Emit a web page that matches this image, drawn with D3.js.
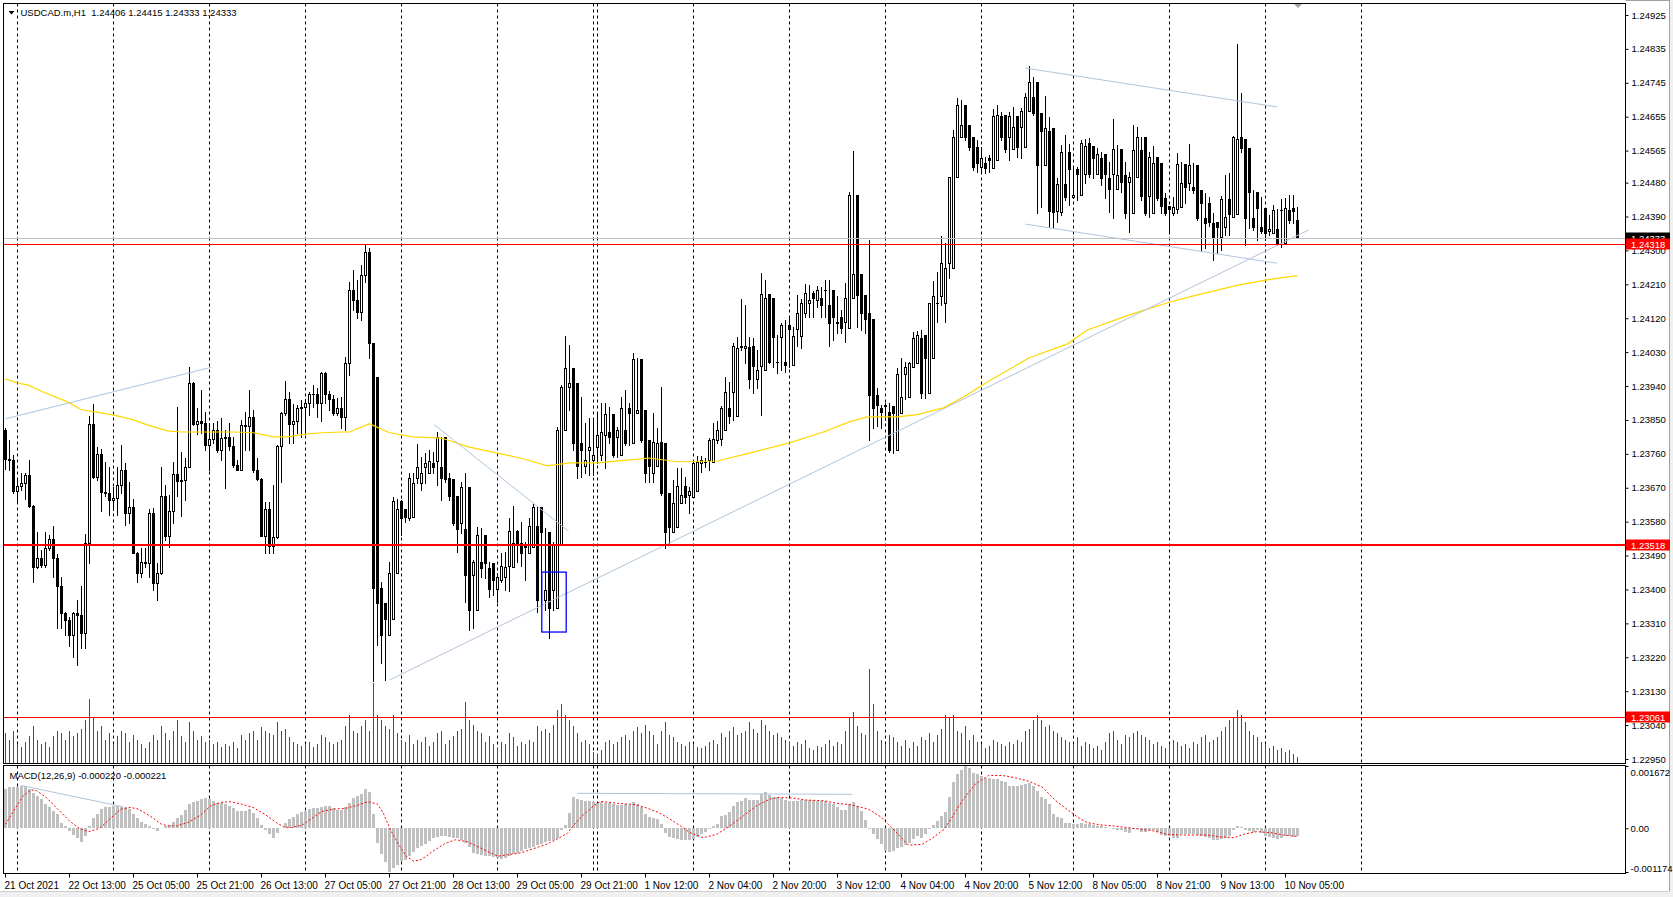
<!DOCTYPE html>
<html><head><meta charset="utf-8">
<script src="https://cdn.jsdelivr.net/npm/d3@7"></script>
<style>html,body{margin:0;padding:0;background:#fff;overflow:hidden}svg{display:block}text{font-family:"Liberation Sans",Arial,sans-serif}</style>
</head><body>
<svg id="c" width="1673" height="897"></svg>
<script>
const titleText = "USDCAD.m,H1  1.24406 1.24415 1.24333 1.24333";
const macdTitle = "MACD(12,26,9) -0.000220 -0.000221";

const opens = [1.23824,
1.23747,1.23744,1.23661,1.23675,1.23683,1.23704,1.23622,1.23460,1.23484,1.23465,
1.23510,1.23534,1.23484,1.23408,1.23337,1.23320,1.23280,1.23337,1.23333,1.23285,
1.23523,1.23839,1.23698,1.23759,1.23658,1.23655,1.23638,1.23642,1.23677,1.23716,
1.23604,1.23620,1.23498,1.23443,1.23474,1.23470,1.23602,1.23417,1.23445,1.23648,
1.23541,1.23609,1.23706,1.23689,1.23691,1.23726,1.23947,1.23839,1.23846,1.23843,
1.23784,1.23800,1.23822,1.23771,1.23802,1.23804,1.23781,1.23731,1.23718,1.23837,
1.23835,1.23857,1.23716,1.23693,1.23542,1.23613,1.23515,1.23538,1.23781,1.23868,
1.23905,1.23840,1.23846,1.23883,1.23885,1.23894,1.23918,1.23920,1.23894,1.23974,
1.23918,1.23905,1.23868,1.23881,1.23858,1.24001,1.24195,1.24169,1.24137,1.24235,
1.24296,1.24054,1.23965,1.23404,1.23364,1.23280,1.23322,1.23443,1.23635,1.23614,
1.23590,1.23593,1.23696,1.23683,1.23726,1.23710,1.23736,1.23741,1.23726,1.23805,
1.23696,1.23694,1.23648,1.23577,1.23561,1.23672,1.23439,1.23346,1.23473,1.23545,
1.23457,1.23470,1.23402,1.23426,1.23434,1.23463,1.23460,1.23555,1.23524,1.23518,
1.23497,1.23513,1.23569,1.23619,1.23373,1.23553,1.23399,1.23351,1.23518,1.23824,
1.23938,1.23988,1.23948,1.23789,1.23728,1.23771,1.23744,1.23779,1.23757,1.23810,
1.23818,1.23866,1.23805,1.23757,1.23824,1.23882,1.23789,1.23869,1.24012,1.23877,
1.23797,1.23710,1.23728,1.23792,1.23789,1.23656,1.23553,1.23566,1.23629,1.23675,
1.23651,1.23646,1.23662,1.23735,1.23739,1.23744,1.23739,1.23797,1.23799,1.23822,
1.23881,1.23925,1.23861,1.24045,1.24040,1.24043,1.24045,1.23958,1.23993,1.23983,
1.24184,1.24173,1.24003,1.24071,1.24003,1.24102,1.23996,1.24091,1.24073,1.24133,
1.24160,1.24187,1.24169,1.24173,1.24195,1.24155,1.24195,1.24107,1.24124,1.24111,
1.24093,1.24173,1.24448,1.24238,1.24182,1.24133,1.24117,1.23917,1.23881,1.23890,
1.23872,1.23887,1.23771,1.23868,1.23972,1.23912,1.23990,1.24000,1.24067,1.24076,
1.23921,1.24014,1.24160,1.24178,1.24161,1.24266,1.24253,1.24494,1.24602,1.24686,
1.24633,1.24601,1.24575,1.24522,1.24532,1.24546,1.24519,1.24540,1.24657,1.24660,
1.24601,1.24570,1.24657,1.24628,1.24575,1.24670,1.24707,1.24747,1.24665,1.24527,
1.24617,1.24625,1.24405,1.24402,1.24477,1.24562,1.24442,1.24516,1.24448,1.24503,
1.24586,1.24578,1.24503,1.24546,1.24556,1.24492,1.24503,1.24463,1.24570,1.24500,
1.24482,1.24400,1.24495,1.24567,1.24601,1.24445,1.24400,1.24548,1.24532,1.24440,
1.24418,1.24400,1.24410,1.24416,1.24530,1.24479,1.24469,1.24527,1.24461,1.24386,
1.24426,1.24373,1.24376,1.24336,1.24362,1.24437,1.24389,1.24397,1.24601,1.24596,
1.24572,1.24386,1.24455,1.24362,1.24413,1.24352,1.24346,1.24357,1.24407,1.24320,
1.24407,1.24413,1.24381];

const highs = [
1.23829,1.23797,1.23757,1.23696,1.23709,1.23710,1.23744,1.23625,1.23553,1.23505,
1.23553,1.23545,1.23569,1.23494,1.23434,1.23341,1.23328,1.23341,1.23371,1.23408,
1.23547,1.23860,1.23893,1.23778,1.23773,1.23738,1.23726,1.23673,1.23725,1.23784,
1.23735,1.23685,1.23640,1.23500,1.23510,1.23510,1.23614,1.23616,1.23470,1.23725,
1.23676,1.23651,1.23738,1.23885,1.23766,1.23748,1.23991,1.23952,1.23881,1.23930,
1.23872,1.23843,1.23841,1.23846,1.23855,1.23824,1.23843,1.23806,1.23744,1.23850,
1.23872,1.23930,1.23877,1.23748,1.23696,1.23633,1.23633,1.23678,1.23784,1.23872,
1.23954,1.23924,1.23892,1.23890,1.23903,1.23905,1.23924,1.23943,1.23934,1.23978,
1.23976,1.23927,1.23916,1.23908,1.23911,1.24017,1.24216,1.24248,1.24222,1.24262,
1.24315,1.24307,1.23965,1.23545,1.23421,1.23346,1.23472,1.23646,1.23640,1.23638,
1.23603,1.23709,1.23709,1.23786,1.23752,1.23763,1.23771,1.23765,1.23818,1.23805,
1.23736,1.23709,1.23656,1.23617,1.23686,1.23709,1.23444,1.23479,1.23566,1.23563,
1.23513,1.23473,1.23447,1.23444,1.23497,1.23500,1.23590,1.23622,1.23558,1.23579,
1.23526,1.23590,1.23627,1.23622,1.23558,1.23563,1.23399,1.23526,1.23832,1.23943,
1.24073,1.24049,1.23965,1.23797,1.23911,1.23842,1.23856,1.23856,1.23872,1.23896,
1.23896,1.23885,1.23824,1.23832,1.23911,1.23930,1.23896,1.24028,1.24015,1.23924,
1.23802,1.23797,1.23869,1.23829,1.23938,1.23656,1.23619,1.23691,1.23722,1.23722,
1.23699,1.23673,1.23739,1.23753,1.23753,1.23748,1.23801,1.23843,1.23846,1.23887,
1.23965,1.23952,1.24054,1.24071,1.24171,1.24155,1.24071,1.24067,1.24036,1.24239,
1.24222,1.24173,1.24076,1.24076,1.24107,1.24116,1.24120,1.24098,1.24182,1.24171,
1.24211,1.24208,1.24191,1.24206,1.24204,1.24222,1.24222,1.24142,1.24178,1.24142,
1.24213,1.24456,1.24565,1.24266,1.24195,1.24182,1.24328,1.24022,1.23934,1.23890,
1.23894,1.23894,1.23877,1.23987,1.24014,1.24005,1.24005,1.24084,1.24087,1.24089,
1.24018,1.24161,1.24218,1.24244,1.24337,1.24319,1.24496,1.24620,1.24705,1.24699,
1.24668,1.24620,1.24593,1.24593,1.24575,1.24548,1.24554,1.24676,1.24686,1.24668,
1.24620,1.24668,1.24681,1.24646,1.24678,1.24718,1.24790,1.24761,1.24665,1.24665,
1.24710,1.24654,1.24479,1.24492,1.24580,1.24607,1.24583,1.24519,1.24522,1.24593,
1.24596,1.24599,1.24575,1.24572,1.24562,1.24508,1.24535,1.24649,1.24580,1.24500,
1.24535,1.24508,1.24633,1.24628,1.24601,1.24522,1.24562,1.24578,1.24546,1.24453,
1.24453,1.24416,1.24442,1.24559,1.24535,1.24506,1.24583,1.24532,1.24466,1.24453,
1.24453,1.24442,1.24400,1.24373,1.24445,1.24500,1.24506,1.24605,1.24848,1.24718,
1.24575,1.24466,1.24460,1.24442,1.24442,1.24402,1.24394,1.24421,1.24410,1.24437,
1.24440,1.24448,1.24448,1.24415];

const lows = [
1.23720,1.23718,1.23656,1.23630,1.23665,1.23640,1.23620,1.23421,1.23457,1.23460,
1.23460,1.23505,1.23434,1.23297,1.23297,1.23280,1.23249,1.23222,1.23200,1.23244,
1.23244,1.23470,1.23695,1.23691,1.23607,1.23647,1.23598,1.23612,1.23598,1.23656,
1.23571,1.23576,1.23496,1.23421,1.23434,1.23460,1.23434,1.23399,1.23373,1.23440,
1.23532,1.23514,1.23576,1.23647,1.23594,1.23638,1.23725,1.23837,1.23813,1.23815,
1.23771,1.23716,1.23788,1.23766,1.23744,1.23669,1.23771,1.23726,1.23716,1.23716,
1.23771,1.23771,1.23713,1.23691,1.23541,1.23496,1.23496,1.23496,1.23536,1.23686,
1.23864,1.23788,1.23788,1.23815,1.23806,1.23813,1.23864,1.23885,1.23859,1.23846,
1.23894,1.23877,1.23864,1.23864,1.23829,1.23824,1.23970,1.24142,1.24121,1.24116,
1.24216,1.24015,1.23157,1.23253,1.23205,1.23160,1.23314,1.23434,1.23603,1.23545,
1.23579,1.23585,1.23603,1.23683,1.23665,1.23683,1.23726,1.23709,1.23677,1.23638,
1.23686,1.23638,1.23570,1.23500,1.23550,1.23367,1.23293,1.23298,1.23460,1.23434,
1.23431,1.23381,1.23386,1.23367,1.23421,1.23399,1.23396,1.23497,1.23473,1.23463,
1.23426,1.23497,1.23545,1.23341,1.23367,1.23346,1.23272,1.23346,1.23452,1.23723,
1.23872,1.23877,1.23771,1.23696,1.23699,1.23710,1.23704,1.23704,1.23736,1.23744,
1.23723,1.23789,1.23752,1.23752,1.23816,1.23784,1.23784,1.23864,1.23872,1.23792,
1.23686,1.23686,1.23686,1.23771,1.23650,1.23510,1.23524,1.23589,1.23594,1.23646,
1.23629,1.23602,1.23646,1.23709,1.23713,1.23726,1.23718,1.23792,1.23788,1.23784,
1.23881,1.23841,1.23850,1.23965,1.24036,1.24000,1.23934,1.23921,1.23934,1.23864,
1.23983,1.24000,1.23991,1.23974,1.23983,1.23978,1.23990,1.24067,1.24045,1.24040,
1.24124,1.24124,1.24124,1.24151,1.24124,1.24124,1.24045,1.24062,1.24080,1.24080,
1.24058,1.24169,1.24235,1.24098,1.24089,1.24080,1.23797,1.23829,1.23833,1.23829,
1.23850,1.23766,1.23762,1.23868,1.23905,1.23905,1.23939,1.23991,1.24062,1.23908,
1.23908,1.24009,1.24142,1.24111,1.24155,1.24109,1.24226,1.24483,1.24593,1.24620,
1.24593,1.24567,1.24514,1.24508,1.24506,1.24506,1.24508,1.24532,1.24652,1.24593,
1.24562,1.24540,1.24620,1.24548,1.24546,1.24660,1.24705,1.24660,1.24400,1.24416,
1.24612,1.24362,1.24360,1.24376,1.24394,1.24434,1.24421,1.24440,1.24434,1.24469,
1.24479,1.24495,1.24492,1.24540,1.24474,1.24440,1.24402,1.24386,1.24474,1.24455,
1.24386,1.24349,1.24487,1.24548,1.24434,1.24395,1.24389,1.24514,1.24434,1.24400,
1.24394,1.24349,1.24394,1.24400,1.24466,1.24426,1.24461,1.24453,1.24381,1.24299,
1.24307,1.24365,1.24275,1.24294,1.24301,1.24341,1.24341,1.24389,1.24546,1.24562,
1.24315,1.24360,1.24354,1.24328,1.24346,1.24328,1.24340,1.24349,1.24315,1.24309,
1.24373,1.24373,1.24373,1.24333];

const closes = [
1.23747,1.23744,1.23661,1.23675,1.23683,1.23704,1.23622,1.23460,1.23484,1.23465,
1.23510,1.23534,1.23484,1.23408,1.23337,1.23320,1.23280,1.23337,1.23333,1.23285,
1.23523,1.23839,1.23698,1.23759,1.23658,1.23655,1.23638,1.23642,1.23677,1.23716,
1.23604,1.23620,1.23498,1.23443,1.23474,1.23470,1.23602,1.23417,1.23445,1.23648,
1.23541,1.23609,1.23706,1.23689,1.23691,1.23726,1.23947,1.23839,1.23846,1.23843,
1.23784,1.23800,1.23822,1.23771,1.23802,1.23804,1.23781,1.23731,1.23718,1.23837,
1.23835,1.23857,1.23716,1.23693,1.23542,1.23613,1.23515,1.23538,1.23781,1.23868,
1.23905,1.23840,1.23846,1.23883,1.23885,1.23894,1.23918,1.23920,1.23894,1.23974,
1.23918,1.23905,1.23868,1.23881,1.23858,1.24001,1.24195,1.24169,1.24137,1.24235,
1.24296,1.24054,1.23404,1.23364,1.23280,1.23322,1.23443,1.23635,1.23614,1.23590,
1.23593,1.23696,1.23683,1.23726,1.23710,1.23736,1.23741,1.23726,1.23805,1.23696,
1.23694,1.23648,1.23577,1.23561,1.23672,1.23439,1.23346,1.23473,1.23545,1.23457,
1.23470,1.23402,1.23426,1.23434,1.23463,1.23460,1.23555,1.23524,1.23518,1.23497,
1.23513,1.23569,1.23619,1.23373,1.23553,1.23399,1.23351,1.23518,1.23824,1.23938,
1.23988,1.23948,1.23789,1.23728,1.23771,1.23744,1.23779,1.23757,1.23810,1.23818,
1.23866,1.23805,1.23757,1.23824,1.23882,1.23789,1.23869,1.24012,1.23877,1.23797,
1.23710,1.23728,1.23792,1.23789,1.23656,1.23553,1.23566,1.23629,1.23675,1.23651,
1.23646,1.23662,1.23735,1.23739,1.23744,1.23739,1.23797,1.23799,1.23822,1.23881,
1.23925,1.23861,1.24045,1.24040,1.24043,1.24045,1.23958,1.23993,1.23983,1.24184,
1.24173,1.24003,1.24071,1.24003,1.24102,1.23996,1.24091,1.24073,1.24133,1.24160,
1.24187,1.24169,1.24173,1.24195,1.24155,1.24195,1.24107,1.24124,1.24111,1.24093,
1.24173,1.24448,1.24238,1.24182,1.24133,1.24117,1.23917,1.23881,1.23890,1.23872,
1.23887,1.23771,1.23868,1.23972,1.23912,1.23990,1.24000,1.24067,1.24076,1.23921,
1.24014,1.24160,1.24178,1.24161,1.24266,1.24253,1.24494,1.24602,1.24686,1.24633,
1.24601,1.24575,1.24522,1.24532,1.24546,1.24519,1.24540,1.24657,1.24660,1.24601,
1.24570,1.24657,1.24628,1.24575,1.24670,1.24707,1.24747,1.24665,1.24527,1.24617,
1.24625,1.24405,1.24402,1.24477,1.24562,1.24442,1.24516,1.24448,1.24503,1.24586,
1.24578,1.24503,1.24546,1.24556,1.24492,1.24503,1.24463,1.24570,1.24500,1.24482,
1.24400,1.24495,1.24567,1.24601,1.24445,1.24400,1.24548,1.24532,1.24440,1.24418,
1.24400,1.24410,1.24416,1.24530,1.24479,1.24469,1.24527,1.24461,1.24386,1.24426,
1.24373,1.24376,1.24336,1.24362,1.24437,1.24389,1.24397,1.24601,1.24596,1.24572,
1.24386,1.24455,1.24362,1.24413,1.24352,1.24346,1.24357,1.24407,1.24320,1.24407,
1.24413,1.24381,1.24406,1.24333];

const volumes = [
280,220,300,180,150,200,250,350,220,180, 200,150,250,300,280,220,300,250,280,320,
400,600,420,300,350,220,280,180,250,300, 280,200,260,220,180,140,200,260,220,350,
280,220,300,400,250,200,380,300,220,250, 200,220,180,200,150,180,160,200,140,260,
220,280,300,220,340,300,280,260,380,300, 320,240,200,180,160,180,200,150,180,260,
240,200,180,200,220,350,450,300,280,350, 400,300,750,450,400,350,320,450,280,220,
200,260,180,220,200,240,160,200,280,300, 180,220,250,300,320,570,400,360,300,280,
200,250,180,140,200,180,280,240,160,200, 180,220,200,350,300,320,280,360,500,550,
450,400,350,280,200,220,180,100,80,120, 200,220,180,200,240,260,220,300,340,280,
360,300,260,180,300,380,260,240,200,180, 160,200,180,150,140,160,200,220,180,280,
240,300,340,260,280,300,380,320,280,400, 360,300,260,280,240,220,200,160,200,180,
220,140,120,160,150,180,220,160,200,180, 300,420,480,350,280,260,880,550,300,220,
180,260,240,200,160,220,140,200,160,240, 220,280,200,260,320,450,420,450,300,280,
350,220,260,200,180,140,160,220,200,180, 160,200,180,220,200,300,320,400,450,400,
340,360,300,280,240,220,200,180,240,160, 200,180,140,160,120,200,280,300,220,180,
260,240,280,300,260,240,220,180,200,160, 140,180,220,200,160,180,140,200,180,240,
260,200,220,240,300,340,400,420,500,450, 380,300,260,240,200,180,140,160,120,140,
100,120,80,60];

const macdHist = [
0.001057,0.001102,0.001102,0.001120,0.001147,0.001147,0.001057,0.000939,0.000876,0.000786,
0.000650,0.000560,0.000470,0.000379,0.000154,0.000063,-0.000072,-0.000181,-0.000253,-0.000361,
-0.000208,0.000063,0.000271,0.000379,0.000515,0.000578,0.000578,0.000605,0.000605,0.000560,
0.000560,0.000506,0.000379,0.000271,0.000181,0.000108,0.000054,-0.000027,-0.000072,0.000018,
0.000054,0.000099,0.000181,0.000271,0.000361,0.000488,0.000650,0.000695,0.000740,0.000786,
0.000813,0.000786,0.000740,0.000686,0.000668,0.000641,0.000596,0.000533,0.000470,0.000452,
0.000470,0.000506,0.000415,0.000289,0.000090,-0.000036,-0.000144,-0.000253,-0.000126,0.000005,
0.000144,0.000244,0.000307,0.000379,0.000424,0.000470,0.000515,0.000533,0.000533,0.000578,
0.000605,0.000587,0.000542,0.000497,0.000488,0.000578,0.000668,0.000813,0.000876,0.000921,
0.001057,0.000966,0.000379,-0.000388,-0.000704,-0.000903,-0.001174,-0.001066,-0.000975,-0.000885,
-0.000849,-0.000749,-0.000632,-0.000542,-0.000488,-0.000415,-0.000343,-0.000271,-0.000235,-0.000208,
-0.000208,-0.000235,-0.000253,-0.000271,-0.000325,-0.000388,-0.000506,-0.000659,-0.000704,-0.000722,
-0.000749,-0.000749,-0.000759,-0.000795,-0.000813,-0.000795,-0.000749,-0.000704,-0.000659,-0.000614,
-0.000569,-0.000524,-0.000506,-0.000452,-0.000415,-0.000361,-0.000343,-0.000325,-0.000253,-0.000054,
0.000090,0.000397,0.000831,0.000786,0.000759,0.000740,0.000722,0.000695,0.000668,0.000695,
0.000686,0.000677,0.000650,0.000632,0.000632,0.000650,0.000632,0.000695,0.000650,0.000560,
0.000379,0.000307,0.000289,0.000244,0.000126,-0.000117,-0.000235,-0.000271,-0.000298,-0.000325,
-0.000325,-0.000325,-0.000298,-0.000235,-0.000144,-0.000090,-0.000027,0.000063,0.000108,0.000334,
0.000361,0.000424,0.000605,0.000695,0.000740,0.000813,0.000759,0.000759,0.000759,0.000921,
0.000975,0.000903,0.000849,0.000831,0.000813,0.000759,0.000740,0.000722,0.000740,0.000759,
0.000759,0.000759,0.000759,0.000740,0.000740,0.000722,0.000668,0.000650,0.000560,0.000488,
0.000488,0.000650,0.000695,0.000605,0.000470,0.000217,-0.000027,-0.000163,-0.000298,-0.000433,
-0.000614,-0.000632,-0.000614,-0.000542,-0.000506,-0.000452,-0.000388,-0.000298,-0.000208,-0.000253,
-0.000144,-0.000027,0.000090,0.000199,0.000334,0.000424,0.000831,0.001237,0.001445,0.001571,
0.001672,0.001625,0.001481,0.001445,0.001391,0.001355,0.001355,0.001327,0.001327,0.001282,
0.001237,0.001147,0.001147,0.001147,0.001174,0.001192,0.001210,0.001147,0.001011,0.000849,
0.000786,0.000650,0.000379,0.000307,0.000289,0.000154,0.000154,0.000126,0.000108,0.000154,
0.000126,0.000108,0.000090,0.000063,0.000072,0.000036,0.000018,-0.000009,-0.000036,-0.000036,
-0.000090,-0.000126,-0.000010,-0.000027,-0.000090,-0.000090,-0.000054,-0.000054,-0.000090,-0.000181,
-0.000208,-0.000208,-0.000253,-0.000253,-0.000163,-0.000144,-0.000163,-0.000163,-0.000181,-0.000208,
-0.000235,-0.000271,-0.000325,-0.000325,-0.000298,-0.000253,-0.000208,-0.000054,0.000063,0.000036,
-0.000054,-0.000072,-0.000090,-0.000054,-0.000117,-0.000208,-0.000235,-0.000271,-0.000298,-0.000253,
-0.000208,-0.000208,-0.000235,-0.000220];

const signalBars = [0,2.6,4.5,6.4,7.8,10.2,13.1,16,18.4,20.8,23.6,26.5,28.9,31.3,33.2,36.1,39,40.9,42.8,45.6,
48.5,51.4,53.8,56.2,59,61.9,64.8,67.7,69.6,71.5,74.3,76.3,79.1,82,84.9,87.7,90.6,93,94.4,96.4,
98.3,100.2,102.1,104,106.9,109.8,112.6,115.5,118.4,121.2,123.2,126,128.9,132.7,135.6,138.5,140.4,142.3,144.2,146.6,
148.75,153.2,157.7,159.9,163.3,165.5,168.8,171.1,174.4,177.8,181.1,184.5,187.8,191.2,193.4,196.7,200.1,204.6,207.9,211.25,
215.7,219.1,222.4,225.75,229.1,231.3,234.7,236.9,239.2,242.5,245.8,249.2,252.5,255.9,259.2,262.6,265.9,268.2,270.4,273.75,
277.1,280.4,283.8,287.1,290.5,293.8,297.2,300.5,303.9,307.2,309.5,312.8,316.2,319.5,323];
const signalVals = [0.000108,0.00056,0.000876,0.00103,0.00101,0.00083,0.000515,0.000199,0,-0.00009,
0,0.000289,0.000515,0.00056,0.000515,0.000334,0.000108,0.000063,0.000063,0.000154,
0.000334,0.000605,0.000695,0.000713,0.00065,0.00056,0.000379,0.000154,0.000036,0.000018,
0.00009,0.000244,0.000452,0.000515,0.000533,0.000605,0.000713,0.00065,0.000424,-0.000072,
-0.000433,-0.00075,-0.000885,-0.00084,-0.000614,-0.000415,-0.000307,-0.000361,-0.000506,-0.000659,
-0.00075,-0.000704,-0.000659,-0.000524,-0.000415,-0.000253,-0.000144,0.000108,0.000334,0.00056,
0.000722,0.000668,0.000632,0.00056,0.000424,0.000289,0.000063,-0.000117,-0.000253,-0.000163,
0.000063,0.000334,0.000605,0.000786,0.000831,0.000813,0.000759,0.00074,0.000668,0.000632,
0.000515,0.000289,-0.000072,-0.000452,-0.000433,-0.000298,-0.000027,0.000334,0.00074,0.00119,
0.001418,0.001418,0.001355,0.001264,0.001102,0.00074,0.00047,0.000289,0.000154,0.00009,
0.000063,0.000018,-0.000027,-0.000072,-0.000163,-0.000181,-0.000181,-0.000181,-0.000235,-0.000253,
-0.000163,-0.00009,-0.000117,-0.000181,-0.000221];

const maBars = [0,3,5.5,9.5,15.5,19,24,28,32,35.5,40.5,44,49,57,62,67,70.5,75.5,79.5,84,
86,91,96,102,109,116,123,129.5,135.5,141,148,156,161,168,178,186,196,204.5,211,215.5,
223,228,234.5,239.5,246,256,265.5,270.5,281,290.5,298,308.75,315.5,323];
const maVals = [1.23959,1.23948,1.23943,1.23924,1.23898,1.23877,1.23869,1.23861,1.23850,1.23837,
1.23821,1.23818,1.23818,1.23818,1.23816,1.23805,1.23805,1.23813,1.23816,1.23818,
1.23818,1.23840,1.23816,1.23805,1.23802,1.23778,1.23762,1.23747,1.23728,1.23736,
1.23736,1.23744,1.23749,1.23739,1.23741,1.23762,1.23789,1.23818,1.23845,1.23858,
1.23858,1.23864,1.23882,1.23911,1.23954,1.24015,1.24052,1.24089,1.24129,1.24161,
1.24182,1.24209,1.24222,1.24233];

const timeLabels = ["21 Oct 2021","22 Oct 13:00","25 Oct 05:00","25 Oct 21:00","26 Oct 13:00","27 Oct 05:00",
"27 Oct 21:00","28 Oct 13:00","29 Oct 05:00","29 Oct 21:00","1 Nov 12:00","2 Nov 04:00","2 Nov 20:00",
"3 Nov 12:00","4 Nov 04:00","4 Nov 20:00","5 Nov 12:00","8 Nov 05:00","8 Nov 21:00","9 Nov 13:00","10 Nov 05:00"];
const timeLabelBars = [0,16,32,48,64,80,96,112,128,144,160,176,192,208,224,240,256,272,288,304,320];
const gridBars = [3,27,51,75,99,123,147,148,172,196,220,244,267,291,315,339];
const priceTicks = [1.24925,1.24835,1.24745,1.24655,1.24565,1.24480,1.24390,1.24300,1.24210,1.24120,1.24030,
1.23940,1.23850,1.23760,1.23670,1.23580,1.23490,1.23400,1.23310,1.23220,1.23130,1.23040,1.22950];
const macdTicks = [0.001672, 0, -0.001174];
const macdTickLabels = ["0.001672","0.00","-0.001174"];
const redLevels = [1.24318, 1.23518, 1.23061];
const bidPrice = 1.24333;
const trendLines = [[0,1.23853,51.5,1.23990],[107.1,1.23838,140.8,1.23555],[96.1,1.23160,325.75,1.24354],
                    [255,1.24784,317.9,1.24681],[255,1.24370,317.9,1.24266]];
const macdTrendLines = [[4,0.001147,29.4,0.000578],[143,0.000939,211.75,0.000912]];
const zoneRect = [134.1,1.23446,140.2,1.23287];

// ---------- layout ----------
const svg = d3.select("#c");
const L = 3.5, R = 1625.5, mainTop = 3.5, mainBot = 763.5, macdTop = 765.5, macdBot = 873.5;
const x = d3.scaleLinear().domain([0, 339]).range([5.4, 1361.4]);
const y = d3.scaleLinear().domain([1.229393, 1.249542]).range([763, 4]);
const yv = d3.scaleLinear().domain([0, 1000]).range([0, 106.7]);
const ym = d3.scaleLinear().domain([-0.001174, 0.001672]).range([872, 766]);
const col = i => Math.floor(x(i));

svg.append("rect").attr("width",1673).attr("height",897).attr("fill","#fff");
// window frame strips
svg.append("rect").attr("x",1669).attr("y",0).attr("width",4).attr("height",897).attr("fill","#f0f0f0");
svg.append("rect").attr("x",0).attr("y",892).attr("width",1673).attr("height",5).attr("fill","#f0f0f0");
svg.append("line").attr("x1",1669.5).attr("x2",1669.5).attr("y1",0).attr("y2",892).attr("stroke","#a0a0a0");
svg.append("line").attr("x1",0).attr("x2",1670).attr("y1",891.5).attr("y2",891.5).attr("stroke","#d0d0d0");
svg.append("line").attr("x1",R).attr("x2",1670).attr("y1",0.5).attr("y2",0.5).attr("stroke","#a0a0a0");

const defs = svg.append("defs");
defs.append("clipPath").attr("id","cm").append("rect").attr("x",L).attr("y",mainTop).attr("width",R-L).attr("height",mainBot-mainTop);
defs.append("clipPath").attr("id","cd").append("rect").attr("x",L).attr("y",macdTop).attr("width",R-L).attr("height",macdBot-macdTop);

// grid
const g = svg.append("g");
gridBars.forEach(b => {
  const gx = col(b) + 0.5;
  [[mainTop, mainBot],[macdTop, macdBot]].forEach(([a,bb]) => {
    g.append("line").attr("x1",gx).attr("x2",gx).attr("y1",a).attr("y2",bb)
      .attr("stroke","#000").attr("stroke-dasharray","3,3");
  });
});

const main = svg.append("g").attr("clip-path","url(#cm)");
// volumes
main.append("g").selectAll("rect").data(volumes).join("rect")
  .attr("x",(d,i)=>col(i)).attr("width",1)
  .attr("y",d=>Math.round(763 - yv(d))).attr("height",d=>Math.round(yv(d)))
  .attr("fill","#008000");

// candles
const cg = main.append("g");
closes.forEach((c,i) => {
  const o = opens[i], h = highs[i], l = lows[i];
  const cx = col(i);
  const hi = Math.max(h,o,c), lo = Math.min(l,o,c);
  cg.append("line").attr("x1",cx+0.5).attr("x2",cx+0.5)
    .attr("y1",Math.round(y(hi))).attr("y2",Math.round(y(lo))+1).attr("stroke","#000");
  const yt = Math.round(y(Math.max(o,c))), yb = Math.round(y(Math.min(o,c)));
  if (c > o && yb - yt >= 1) {
    cg.append("rect").attr("x",cx-0.5).attr("y",yt+0.5).attr("width",2).attr("height",yb-yt)
      .attr("fill","#fff").attr("stroke","#000");
  } else if (c < o && yb - yt >= 1) {
    cg.append("rect").attr("x",cx-1).attr("y",yt).attr("width",3).attr("height",yb-yt+1).attr("fill","#000");
  } else {
    cg.append("line").attr("x1",cx-1).attr("x2",cx+2).attr("y1",yt+0.5).attr("y2",yt+0.5).attr("stroke","#000");
  }
});

// moving average
main.append("path").datum(maBars.map((b,i)=>[b,maVals[i]]))
  .attr("d", d3.line().x(d=>x(d[0])).y(d=>y(d[1])))
  .attr("fill","none").attr("stroke","#FFD700").attr("stroke-width",1.2);

// trend lines
trendLines.forEach(t => {
  main.append("line").attr("x1",x(t[0])).attr("y1",y(t[1])).attr("x2",x(t[2])).attr("y2",y(t[3]))
    .attr("stroke","#B0C4DE").attr("stroke-width",1);
});
// bid line
main.append("line").attr("x1",L).attr("x2",R).attr("y1",Math.round(y(bidPrice))+0.5).attr("y2",Math.round(y(bidPrice))+0.5)
  .attr("stroke","#C0C0C0");
// red levels
redLevels.forEach((p,i) => {
  const yy = Math.round(y(p));
  main.append("line").attr("x1",L).attr("x2",R)
    .attr("y1", i===1 ? yy : yy+0.5).attr("y2", i===1 ? yy : yy+0.5)
    .attr("stroke","#FF0000").attr("stroke-width", i===1 ? 2 : 1);
});
// zone rectangle
main.append("rect").attr("x",x(zoneRect[0])).attr("y",y(zoneRect[1]))
  .attr("width",x(zoneRect[2])-x(zoneRect[0])).attr("height",y(zoneRect[3])-y(zoneRect[1]))
  .attr("fill","none").attr("stroke","#0000FF").attr("stroke-width",1.3);

// MACD panel
const md = svg.append("g").attr("clip-path","url(#cd)");
const z0 = Math.round(ym(0));
md.append("g").selectAll("rect").data(macdHist).join("rect")
  .attr("x",(d,i)=>col(i)-1).attr("width",3)
  .attr("y",d=>d>=0 ? Math.round(ym(d)) : z0)
  .attr("height",d=>Math.max(0, Math.abs(Math.round(ym(d)) - z0)))
  .attr("fill","#C0C0C0");
md.append("path").datum(signalBars.map((b,i)=>[b,signalVals[i]]))
  .attr("d", d3.line().x(d=>x(d[0])).y(d=>ym(d[1])))
  .attr("fill","none").attr("stroke","#FF0000").attr("stroke-width",1).attr("stroke-dasharray","2,2");
macdTrendLines.forEach(t => {
  md.append("line").attr("x1",x(t[0])).attr("y1",ym(t[1])).attr("x2",x(t[2])).attr("y2",ym(t[3]))
    .attr("stroke","#B0C4DE").attr("stroke-width",1);
});

// panel frames
svg.append("rect").attr("x",L).attr("y",mainTop).attr("width",R-L).attr("height",mainBot-mainTop)
  .attr("fill","none").attr("stroke","#000");
svg.append("rect").attr("x",L).attr("y",macdTop).attr("width",R-L).attr("height",macdBot-macdTop)
  .attr("fill","none").attr("stroke","#000");

// price axis
const fs = "9.5px";
const pa = svg.append("g").attr("transform",`translate(${R},0)`)
  .call(d3.axisRight(y).tickValues(priceTicks).tickFormat(d3.format(".5f")).tickSize(3).tickPadding(3));
pa.select(".domain").remove();
pa.selectAll("text").attr("font-size",fs).attr("font-family","Liberation Sans, Arial, sans-serif").attr("fill","#000");
pa.selectAll("line").attr("stroke","#000");

// MACD axis
const ma = svg.append("g").attr("transform",`translate(${R},0)`)
  .call(d3.axisRight(ym).tickValues(macdTicks).tickFormat((d,i)=>macdTickLabels[i]).tickSize(3).tickPadding(2));
ma.select(".domain").remove();
ma.selectAll("text").attr("font-size",fs).attr("font-family","Liberation Sans, Arial, sans-serif").attr("fill","#000")
  .attr("dy",(d,i)=> i===0 ? "1.0em" : (i===2 ? "-0.1em" : "0.32em"));
ma.selectAll("line").attr("stroke","#000");

// price level labels
function priceTag(p, bg) {
  const yy = y(p);
  svg.append("rect").attr("x",1626).attr("y",Math.round(yy)-5.5).attr("width",44).attr("height",11).attr("fill",bg);
  svg.append("text").attr("x",1631).attr("y",Math.round(yy)+3.5).attr("font-size",fs).attr("fill","#fff")
    .text(d3.format(".5f")(p));
}
priceTag(bidPrice, "#000");
redLevels.forEach(p => priceTag(p, "#FF0000"));

// time axis
const ta = svg.append("g").attr("transform",`translate(0,${macdBot})`)
  .call(d3.axisBottom(x).tickValues(timeLabelBars).tickFormat((d,i)=>timeLabels[i]).tickSize(4).tickPadding(4));
ta.select(".domain").remove();
ta.selectAll(".tick").attr("transform", d => `translate(${col(d)+0.5},0)`);
ta.selectAll("text").attr("font-size","10px").attr("font-family","Liberation Sans, Arial, sans-serif")
  .attr("fill","#000").attr("text-anchor","start").attr("x",-1);
ta.selectAll("line").attr("stroke","#000");

// header
svg.append("path").attr("d","M8.5,11 L14.5,11 L11.5,14.5 Z").attr("fill","#000");
svg.append("text").attr("x",20.5).attr("y",15.5).attr("font-size",fs).attr("fill","#000")
  .attr("xml:space","preserve").style("white-space","pre").text(titleText);
svg.append("text").attr("x",9.5).attr("y",778.5).attr("font-size",fs).attr("fill","#000").text(macdTitle);
// chart shift marker
svg.append("path").attr("d","M1294,4 L1302,4 L1298,8 Z").attr("fill","#a0a0a0");
</script>
</body></html>
